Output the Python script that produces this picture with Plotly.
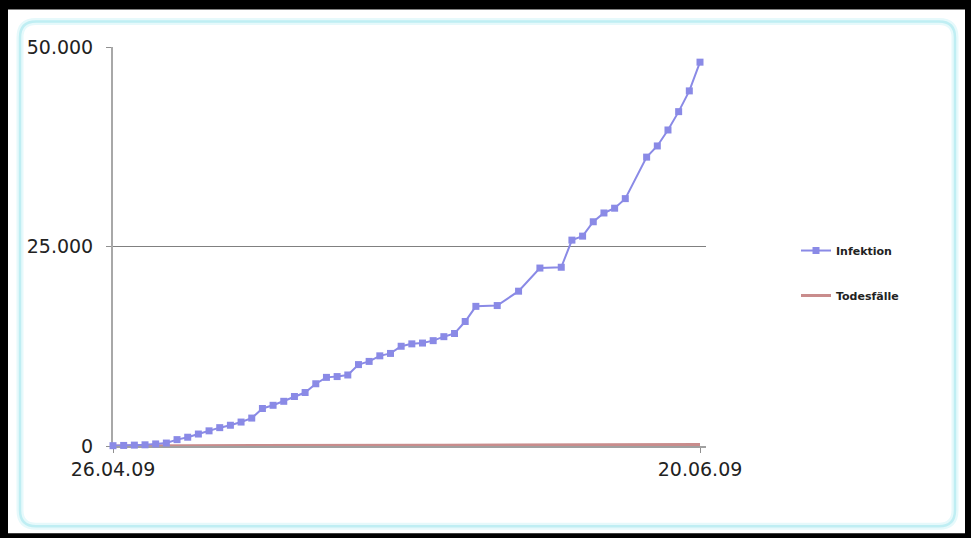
import plotly.graph_objects as go

# ---- data ----
dates = [
    "2009-04-26", "2009-04-27", "2009-04-28", "2009-04-29", "2009-04-30",
    "2009-05-01", "2009-05-02", "2009-05-03", "2009-05-04", "2009-05-05",
    "2009-05-06", "2009-05-07", "2009-05-08", "2009-05-09", "2009-05-10",
    "2009-05-11", "2009-05-12", "2009-05-13", "2009-05-14", "2009-05-15",
    "2009-05-16", "2009-05-17", "2009-05-18", "2009-05-19", "2009-05-20",
    "2009-05-21", "2009-05-22", "2009-05-23", "2009-05-24", "2009-05-25",
    "2009-05-26", "2009-05-27", "2009-05-28", "2009-05-29", "2009-05-30",
    "2009-06-01", "2009-06-03", "2009-06-05", "2009-06-07", "2009-06-08",
    "2009-06-09", "2009-06-10", "2009-06-11", "2009-06-12", "2009-06-13",
    "2009-06-15", "2009-06-16", "2009-06-17", "2009-06-18", "2009-06-19",
    "2009-06-20",
]
infektion = [
    40, 70, 110, 150, 260,
    370, 800, 1100, 1500, 1900,
    2300, 2600, 3000, 3500, 4700,
    5100, 5600, 6200, 6700, 7800,
    8600, 8700, 8900, 10200, 10600,
    11300, 11600, 12500, 12800, 12900,
    13200, 13700, 14100, 15600, 17500,
    17600, 19400, 22300, 22400, 25800,
    26300, 28100, 29200, 29800, 31000,
    36200, 37600, 39600, 41900, 44500,
    48100,
]
todesfaelle = [
    7, 7, 7, 8, 9,
    12, 16, 19, 22, 25,
    29, 30, 44, 45, 48,
    53, 56, 61, 65, 68,
    72, 75, 80, 85, 86,
    90, 92, 95, 97, 99,
    100, 106, 110, 115, 117,
    117, 125, 125, 125, 125,
    139, 139, 141, 144, 144,
    163, 163, 167, 167, 175,
    180,
]
tick_dates = ["2009-04-26", "2009-06-20"]
tick_labels = ["26.04.09", "20.06.09"]
y_ticks = [0, 25000, 50000]
y_labels = ["0", "25.000", "50.000"]

# ---- geometry helpers (pixel -> paper) ----
W, H = 971, 538
L, R, T, B = 113, 265, 46.5, 91.5
PW, PH = W - L - R, H - T - B


def px(x):
    return (x - L) / PW


def py(y):
    return 1 - (y - T) / PH


def rounded_path(x0, y0, x1, y1, r):
    a, b, c, d = px(x0), py(y0), px(x1), py(y1)
    rx, ry = r / PW, r / PH
    return (
        f"M{a+rx},{b} L{c-rx},{b} Q{c},{b} {c},{b-ry} "
        f"L{c},{d+ry} Q{c},{d} {c-rx},{d} "
        f"L{a+rx},{d} Q{a},{d} {a},{d+ry} "
        f"L{a},{b-ry} Q{a},{b} {a+rx},{b} Z"
    )


fig = go.Figure()
fig.add_trace(go.Scatter(
    x=dates, y=todesfaelle, name="Todesfälle", mode="lines",
    line=dict(color="#c98c8c", width=3),
    legendgroup="b", legendrank=2, cliponaxis=False,
))
fig.add_trace(go.Scatter(
    x=dates, y=infektion, name="Infektion", mode="lines+markers",
    line=dict(color="#8a8ae6", width=2),
    marker=dict(symbol="square", size=7, color="#8a8ae6"),
    legendgroup="a", legendrank=1, cliponaxis=False,
))

shapes = [
    dict(type="rect", xref="paper", yref="paper", layer="below",
         x0=px(8), x1=px(965), y0=py(9), y1=py(534),
         fillcolor="white", line=dict(width=0)),
    dict(type="path", xref="paper", yref="paper", layer="below",
         path=rounded_path(20, 21, 955, 527, 16),
         fillcolor="white", line=dict(color="#e6f9fb", width=7)),
    dict(type="path", xref="paper", yref="paper", layer="below",
         path=rounded_path(20, 21, 955, 527, 16),
         fillcolor="rgba(0,0,0,0)", line=dict(color="#bfeef3", width=2.5)),
]

fig.update_layout(
    width=W, height=H,
    margin=dict(l=L, r=R, t=T, b=B, pad=0),
    paper_bgcolor="black",
    plot_bgcolor="rgba(0,0,0,0)",
    shapes=shapes,
    showlegend=True,
    legend=dict(
        x=px(796), y=py(236), xanchor="left", yanchor="top",
        bgcolor="rgba(0,0,0,0)", borderwidth=0,
        traceorder="grouped", tracegroupgap=26,
        font=dict(family="DejaVu Sans", size=11, color="#222222",
                  weight="bold"),
    ),
    font=dict(family="DejaVu Sans", size=19, color="#222222"),
    xaxis=dict(
        type="date",
        range=["2009-04-26", "2009-06-20 13:30"],
        tickvals=tick_dates, ticktext=tick_labels,
        showgrid=False, zeroline=False,
        showline=True, linecolor="#a0a0a0", linewidth=1.5,
        ticks="outside", ticklen=5, tickcolor="#909090",
        ticklabelstandoff=0,
        layer="below traces",
        tickfont=dict(family="DejaVu Sans", size=19, color="#222222"),
    ),
    yaxis=dict(
        range=[0, 50000],
        tickvals=y_ticks, ticktext=y_labels,
        showgrid=True, gridcolor="#808080", gridwidth=1,
        zeroline=False,
        showline=True, linecolor="#a8a8a8", linewidth=2,
        ticks="outside", ticklen=5, tickcolor="#909090",
        ticklabelstandoff=9,
        layer="below traces",
        tickfont=dict(family="DejaVu Sans", size=19, color="#222222"),
    ),
)

fig.write_html(
    "out.html",
    config={"displayModeBar": False},
    post_script="document.body.style.margin='0';"
                "document.body.style.background='black';",
)
